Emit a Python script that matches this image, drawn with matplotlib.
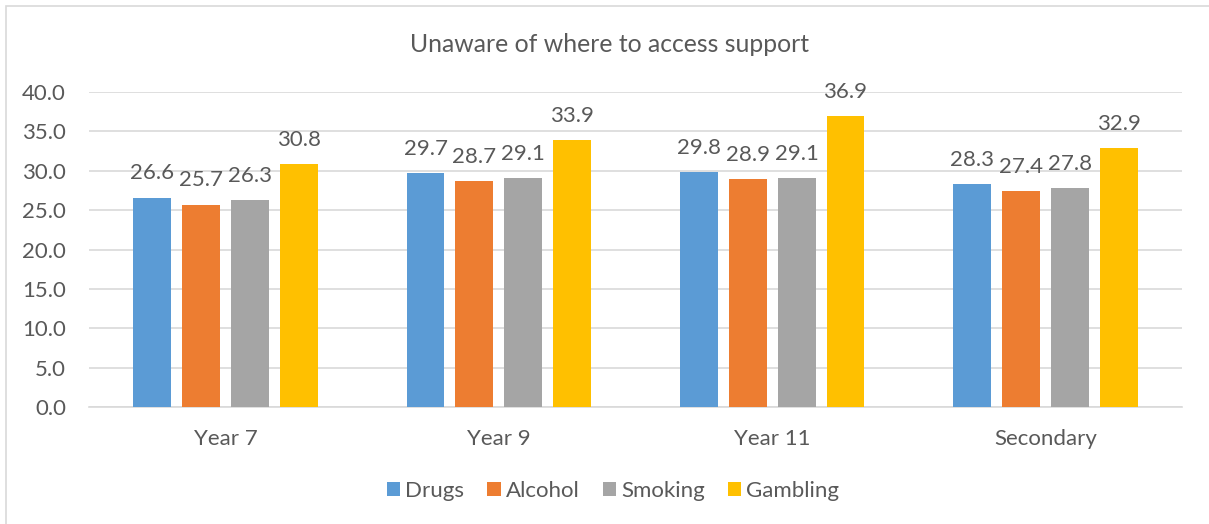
import numpy as np
import matplotlib.pyplot as plt
from matplotlib.patches import Rectangle

# Share of pupils unaware of where to access support (%)
groups = ['Year 7', 'Year 9', 'Year 11', 'Secondary']
series = ['Drugs', 'Alcohol', 'Smoking', 'Gambling']
drugs = [26.6, 29.7, 29.8, 28.3]
alcohol = [25.7, 28.7, 28.9, 27.4]
smoking = [26.3, 29.1, 29.1, 27.8]
gambling = [30.8, 33.9, 36.9, 32.9]
colors = ['#5b9bd5', '#ed7d31', '#a5a5a5', '#ffc000']

text_col = '#595959'
plt.rcParams['font.family'] = ['Lato', 'DejaVu Sans']

fig = plt.figure(figsize=(12.09, 5.24), dpi=100)
fig.patches.append(Rectangle((6 / 1209, -0.1), 1.2, (524 - 6) / 524 + 0.1,
                             transform=fig.transFigure, fill=False,
                             edgecolor='#d9d9d9', linewidth=1.2))

ax = fig.add_axes([89 / 1209, 117 / 524, 1093 / 1209, 315 / 524])

x = np.arange(len(groups))
width = 0.139
step = 0.179
for i, (name, vals) in enumerate(zip(series, [drugs, alcohol, smoking, gambling])):
    pos = x + (i - 1.5) * step
    bars = ax.bar(pos, vals, width, color=colors[i], label=name, zorder=3)
    for b, v in zip(bars, vals):
        ax.text(b.get_x() + b.get_width() / 2, v + 2.3, f'{v:.1f}',
                ha='center', va='baseline', fontsize=16, color=text_col)

ax.set_xlim(-0.5, len(groups) - 0.5)
ax.set_ylim(0, 40)
ax.set_yticks(np.arange(0, 41, 5))
ax.set_yticklabels([f'{t:.1f}' for t in np.arange(0, 41, 5)])
ax.set_xticks(x)
ax.set_xticklabels(groups)
ax.grid(axis='y', color='#d9d9d9', linewidth=1.2, zorder=0)
for s in ['top', 'right', 'left']:
    ax.spines[s].set_visible(False)
ax.spines['bottom'].set_color('#d9d9d9')
ax.spines['bottom'].set_linewidth(1.2)
ax.tick_params(axis='both', length=0, labelsize=16, colors=text_col)
ax.tick_params(axis='y', pad=16.5)
ax.tick_params(axis='x', pad=16)

fig.text(609 / 1209, 1 - 45 / 524, 'Unaware of where to access support',
         ha='center', va='center', fontsize=17.8, color=text_col)

ax.legend(loc='center', bbox_to_anchor=(613 / 1209, 1 - 491 / 524),
          bbox_transform=fig.transFigure, ncol=4, frameon=False,
          fontsize=16, labelcolor=text_col, handlelength=0.6,
          handleheight=0.6, handletextpad=0.22, columnspacing=1.05)

fig.savefig('out.png', dpi=100)
